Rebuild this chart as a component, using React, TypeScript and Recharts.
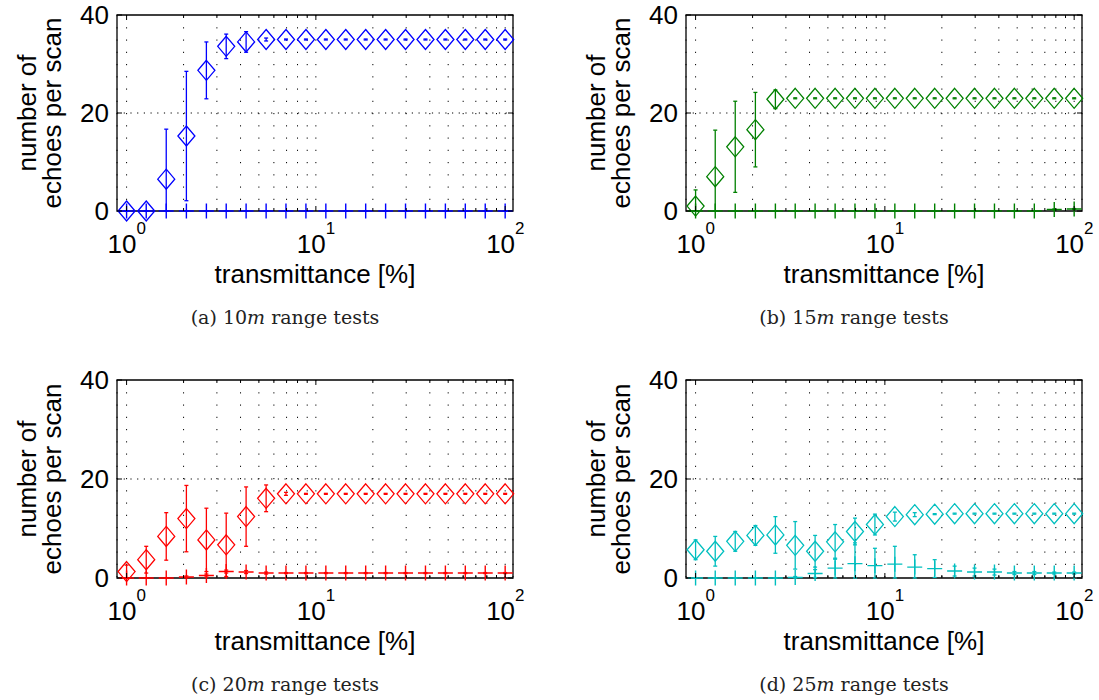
import {
  ScatterChart,
  Scatter,
  XAxis,
  YAxis,
  CartesianGrid,
  ErrorBar,
  ReferenceArea,
  ReferenceLine,
} from 'recharts';

// filter transmittance steps [%], logarithmically spaced
const transmittance = [
  1, 1.27, 1.62, 2.07, 2.64, 3.36, 4.28, 5.46, 6.95, 8.86,
  11.29, 14.38, 18.33, 23.36, 29.76, 37.93, 48.33, 61.58, 78.48, 100,
];

// echoes from the target (mean and std per scan)
const target10 = [0, 0, 6.5, 15.3, 28.7, 33.6, 34.5, 35, 35, 35, 35, 35, 35, 35, 35, 35, 35, 35, 35, 35];
const targetStd10 = [0, 0, 10.2, 13.2, 5.8, 2.5, 2.1, 0.3, 0.1, 0.1, 0.1, 0.1, 0.1, 0.1, 0.1, 0.1, 0.1, 0.1, 0.1, 0.1];
const target15 = [1.0, 7.0, 13.1, 16.6, 22.8, 23, 23, 23, 23, 23, 23, 23, 23, 23, 23, 23, 23, 23, 23, 23];
const targetStd15 = [3.3, 9.5, 9.3, 7.6, 1.9, 0.1, 0.1, 0.1, 0.1, 0.1, 0.1, 0.1, 0.1, 0.1, 0.1, 0.1, 0.1, 0.1, 0.1, 0.1];
const target20 = [1.3, 3.7, 8.4, 12.0, 7.7, 6.7, 12.4, 16.1, 17, 17, 17, 17, 17, 17, 17, 17, 17, 17, 17, 17];
const targetStd20 = [1.3, 2.7, 4.8, 6.7, 6.4, 6.4, 6.0, 2.7, 0.3, 0.1, 0.1, 0.1, 0.1, 0.1, 0.1, 0.1, 0.1, 0.1, 0.1, 0.1];
const target25 = [5.7, 5.4, 7.4, 8.6, 8.7, 6.6, 5.4, 7.3, 9.4, 10.8, 12.4, 12.8, 12.9, 13, 13, 13, 13, 13, 13, 13];
const targetStd25 = [2.0, 3.0, 2.0, 2.0, 3.7, 4.8, 3.2, 3.5, 2.7, 2.1, 0.9, 0.4, 0.1, 0.1, 0.1, 0.1, 0.1, 0.1, 0.1, 0.1];

// spurious echoes (mean and std per scan)
const spurious10 = [0, 0, 0, 0, 0, 0, 0, 0, 0, 0, 0, 0, 0, 0, 0, 0, 0, 0, 0, 0];
const spuriousStd10 = [0, 0, 0, 0, 0, 0, 0, 0, 0, 0, 0, 0, 0, 0, 0, 0, 0, 0, 0, 0];
const spurious15 = [0, 0, 0, 0, 0, 0, 0, 0, 0, 0, 0, 0, 0, 0, 0, 0, 0, 0, 0.3, 0.4];
const spuriousStd15 = [0, 0, 0, 0, 0, 0, 0, 0, 0, 0, 0, 0, 0, 0, 0, 0, 0, 0, 0.1, 0.1];
const spurious20 = [0, 0, 0, 0.2, 0.5, 1.3, 1.2, 1.0, 1.0, 1.0, 1.0, 1.0, 1.0, 1.0, 1.0, 1.0, 1.0, 1.0, 1.0, 1.0];
const spuriousStd20 = [0, 0, 0, 0.2, 0.3, 0.3, 0.3, 0.2, 0.1, 0.1, 0.1, 0.1, 0.1, 0.1, 0.1, 0.1, 0.1, 0.1, 0.1, 0.1];
const spurious25 = [0, 0, 0, 0, 0, 0.1, 0.9, 2.0, 2.9, 2.5, 2.8, 2.2, 1.9, 1.4, 1.2, 1.2, 1.0, 1.0, 1.0, 1.0];
const spuriousStd25 = [0, 0, 0, 0, 0, 0.2, 0.8, 2.0, 4.2, 3.5, 3.6, 2.5, 1.8, 1.0, 0.8, 0.6, 0.3, 0.3, 0.2, 0.2];

const xTicks = [1, 2, 3, 4, 5, 6, 7, 8, 9, 10, 20, 30, 40, 50, 60, 70, 80, 90, 100];
const decades = [1, 10, 100];
const yTicks = [0, 20, 40];

const X_DOMAIN: [number, number] = [0.89, 110];
const Y_DOMAIN: [number, number] = [0, 40];

const SANS = "'Liberation Sans', Arial, Helvetica, sans-serif";
const SERIF = "'DejaVu Serif', 'Liberation Serif', serif";
const FONT = 26;

// plot box inside each chart svg
const CHART_W = 530;
const PLOT_LEFT = 117;
const PLOT_RIGHT = 513;
const PLOT_TOP = 15;
const Y_AXIS_W = 60;
const X_AXIS_H = 30;

const rows = (mean: number[], std: number[]) =>
  transmittance.map((x, i) => ({
    x,
    y: mean[i],
    // lower whisker stops at the axis
    err: [Math.min(std[i], mean[i]), std[i]],
  }));

const panels = [
  { tag: '(a)', range: '10', color: '#0000ff', mean: target10, std: targetStd10, sp: spurious10, spStd: spuriousStd10, left: 0, top: 0, height: 365, mb: 124 },
  { tag: '(b)', range: '15', color: '#008000', mean: target15, std: targetStd15, sp: spurious15, spStd: spuriousStd15, left: 569, top: 0, height: 365, mb: 124 },
  { tag: '(c)', range: '20', color: '#ff0000', mean: target20, std: targetStd20, sp: spurious20, spStd: spuriousStd20, left: 0, top: 365, height: 335, mb: 92 },
  { tag: '(d)', range: '25', color: '#00bfbf', mean: target25, std: targetStd25, sp: spurious25, spStd: spuriousStd25, left: 569, top: 365, height: 335, mb: 92 },
];

function diamond(color: string) {
  return (p: any) => {
    const { cx, cy } = p;
    return (
      <path
        d={`M${cx},${cy - 10}L${cx + 8.5},${cy}L${cx},${cy + 10}L${cx - 8.5},${cy}Z`}
        fill="none"
        stroke={color}
        strokeWidth={1.3}
      />
    );
  };
}

function plus(color: string) {
  return (p: any) => {
    const { cx, cy } = p;
    return (
      <path
        d={`M${cx - 7.5},${cy}H${cx + 7.5}M${cx},${cy - 7.5}V${cy + 7.5}`}
        fill="none"
        stroke={color}
        strokeWidth={1.4}
      />
    );
  };
}

function XTick({ x, y, payload }: any) {
  const v = payload.value;
  const major = decades.includes(v);
  const len = major ? 5 : 3;
  return (
    <g>
      <line x1={x} y1={y} x2={x} y2={y - len} stroke="#000" />
      <line x1={x} y1={PLOT_TOP} x2={x} y2={PLOT_TOP + len} stroke="#000" />
      {major && (
        <text x={x - 19} y={y + 42} fontSize={FONT} fontFamily={SANS} fill="#000">
          10
          <tspan dy={-19} fontSize={17}>
            {Math.round(Math.log10(v))}
          </tspan>
        </text>
      )}
    </g>
  );
}

function YTick({ x, y, payload }: any) {
  return (
    <g>
      <line x1={x} y1={y} x2={x + 5} y2={y} stroke="#000" />
      <line x1={PLOT_RIGHT - 5} y1={y} x2={PLOT_RIGHT} y2={y} stroke="#000" />
      <text x={x - 8} y={y + 9} textAnchor="end" fontSize={FONT} fontFamily={SANS} fill="#000">
        {payload.value}
      </text>
    </g>
  );
}

function Panel({ p }: { p: (typeof panels)[number] }) {
  const bottom = p.height - p.mb - X_AXIS_H;
  const midY = (PLOT_TOP + bottom) / 2;
  const midX = (PLOT_LEFT + PLOT_RIGHT) / 2;
  return (
    <div style={{ position: 'absolute', left: p.left, top: p.top, width: CHART_W, height: p.height }}>
      <ScatterChart
        width={CHART_W}
        height={p.height}
        margin={{ top: PLOT_TOP, right: CHART_W - PLOT_RIGHT, bottom: p.mb, left: PLOT_LEFT - Y_AXIS_W }}
      >
        <CartesianGrid horizontal={false} stroke="#000" strokeWidth={1} strokeDasharray="1.2 11.05" />
        <ReferenceLine y={20} stroke="#000" strokeDasharray="1.2 5.5" />
        <XAxis
          type="number"
          dataKey="x"
          scale="log"
          domain={X_DOMAIN}
          ticks={xTicks}
          interval={0}
          tick={<XTick />}
          tickLine={false}
          axisLine={false}
          tickSize={0}
          tickMargin={0}
          height={X_AXIS_H}
        />
        <YAxis
          type="number"
          dataKey="y"
          domain={Y_DOMAIN}
          ticks={yTicks}
          interval={0}
          tick={<YTick />}
          tickLine={false}
          axisLine={false}
          tickSize={0}
          tickMargin={0}
          width={Y_AXIS_W}
        />
        <ReferenceArea
          x1={X_DOMAIN[0]}
          x2={X_DOMAIN[1]}
          y1={Y_DOMAIN[0]}
          y2={Y_DOMAIN[1]}
          fill="none"
          stroke="#000"
          strokeWidth={1.3}
        />
        <Scatter data={rows(p.mean, p.std)} shape={diamond(p.color)} isAnimationActive={false}>
          <ErrorBar dataKey="err" direction="y" width={2} stroke={p.color} strokeWidth={1.3} isAnimationActive={false} />
        </Scatter>
        <Scatter data={rows(p.sp, p.spStd)} shape={plus(p.color)} isAnimationActive={false}>
          <ErrorBar dataKey="err" direction="y" width={2} stroke={p.color} strokeWidth={1.3} isAnimationActive={false} />
        </Scatter>
      </ScatterChart>
      <svg
        width={CHART_W}
        height={p.height}
        style={{ position: 'absolute', left: 0, top: 0, pointerEvents: 'none' }}
      >
        <text transform={`translate(36, ${midY}) rotate(-90)`} textAnchor="middle" fontSize={FONT} fontFamily={SANS} fill="#000">
          number of
        </text>
        <text transform={`translate(61, ${midY}) rotate(-90)`} textAnchor="middle" fontSize={FONT} fontFamily={SANS} fill="#000">
          echoes per scan
        </text>
        <text x={midX} y={bottom + 72} textAnchor="middle" fontSize={FONT} fontFamily={SANS} fill="#000">
          transmittance [%]
        </text>
        <text x={285} y={bottom + 113} textAnchor="middle" fontSize={19} fontFamily={SERIF} fill="#222">
          {p.tag} {p.range}
          <tspan fontStyle="italic">m</tspan> range tests
        </text>
      </svg>
    </div>
  );
}

export default function App() {
  return (
    <div style={{ position: 'absolute', left: 0, top: 0, width: 1099, height: 700, background: '#fff', overflow: 'hidden' }}>
      {panels.map((p) => (
        <Panel key={p.tag} p={p} />
      ))}
    </div>
  );
}
